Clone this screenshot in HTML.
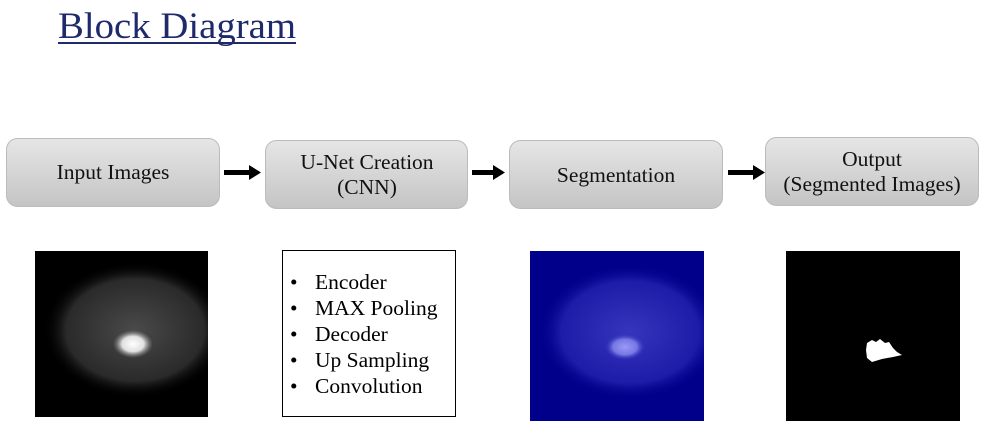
<!DOCTYPE html>
<html><head><meta charset="utf-8"><style>
html,body{margin:0;padding:0;background:#fff;width:994px;height:446px;overflow:hidden}
svg{display:block}
text{font-family:"Liberation Serif",serif}
</style></head><body>
<svg width="994" height="446" xmlns="http://www.w3.org/2000/svg">
<defs>
<linearGradient id="g" x1="0" y1="0" x2="0" y2="1">
<stop offset="0" stop-color="#e6e6e6"/><stop offset="1" stop-color="#c4c4c4"/>
</linearGradient>
<radialGradient id="br" cx="0.5" cy="0.5" r="0.5">
<stop offset="0" stop-color="#4a4a4a"/><stop offset="0.75" stop-color="#2a2a2a"/><stop offset="1" stop-color="#000" stop-opacity="0"/>
</radialGradient>
<radialGradient id="bb" cx="0.5" cy="0.5" r="0.5">
<stop offset="0" stop-color="#3535bd"/><stop offset="0.75" stop-color="#1c1ca8"/><stop offset="1" stop-color="#00008b" stop-opacity="0"/>
</radialGradient>
<radialGradient id="spot" cx="0.5" cy="0.5" r="0.5">
<stop offset="0" stop-color="#fff"/><stop offset="0.55" stop-color="#e0e0e0"/><stop offset="1" stop-color="#888" stop-opacity="0"/>
</radialGradient>
<radialGradient id="spotb" cx="0.5" cy="0.5" r="0.5">
<stop offset="0" stop-color="#9a9af5"/><stop offset="0.6" stop-color="#7777e5"/><stop offset="1" stop-color="#3a3ac0" stop-opacity="0"/>
</radialGradient>
<clipPath id="c1"><rect x="35" y="251" width="173" height="166"/></clipPath>
<clipPath id="c2"><rect x="530" y="251" width="174" height="170"/></clipPath>
</defs>
<text x="58" y="38" font-size="37" fill="#1f2a6b" textLength="238" lengthAdjust="spacingAndGlyphs">Block Diagram</text>
<rect x="58" y="42" width="238" height="2" fill="#1f2a6b"/>

<rect x="6.5" y="138.5" width="213" height="68" rx="11" fill="url(#g)" stroke="#bbb"/>
<text x="113" y="179" font-size="21.5" text-anchor="middle" fill="#111">Input Images</text>
<rect x="265.5" y="140.5" width="202" height="68" rx="11" fill="url(#g)" stroke="#bbb"/>
<text x="367" y="169" font-size="21.5" text-anchor="middle" fill="#111">U-Net Creation</text>
<text x="367" y="194" font-size="21.5" text-anchor="middle" fill="#111">(CNN)</text>
<rect x="509.5" y="140.5" width="213" height="68" rx="11" fill="url(#g)" stroke="#bbb"/>
<text x="616" y="182" font-size="21.5" text-anchor="middle" fill="#111">Segmentation</text>
<rect x="765.5" y="137.5" width="213" height="68" rx="11" fill="url(#g)" stroke="#bbb"/>
<text x="872" y="166" font-size="21.5" text-anchor="middle" fill="#111">Output</text>
<text x="872" y="191" font-size="21.5" text-anchor="middle" fill="#111">(Segmented Images)</text>

<g fill="#000">
<rect x="224" y="170" width="26" height="5"/><polygon points="249,165 261,172.5 249,180"/>
<rect x="472" y="170" width="22" height="5"/><polygon points="493,165 505,172.5 493,180"/>
<rect x="728" y="170" width="26" height="5"/><polygon points="753,165 765,172.5 753,180"/>
</g>

<rect x="35" y="251" width="173" height="166" fill="#000"/>
<g clip-path="url(#c1)">
<ellipse cx="135" cy="330" rx="92" ry="68" fill="url(#br)"/>
<ellipse cx="133" cy="344" rx="20" ry="14" fill="url(#spot)"/>
</g>

<rect x="282.5" y="250.5" width="173" height="166" fill="#fff" stroke="#000"/>
<g font-size="21.5" fill="#000">
<text x="290" y="289">•</text><text x="315" y="289">Encoder</text>
<text x="290" y="315">•</text><text x="315" y="315">MAX Pooling</text>
<text x="290" y="341">•</text><text x="315" y="341">Decoder</text>
<text x="290" y="367">•</text><text x="315" y="367">Up Sampling</text>
<text x="290" y="393">•</text><text x="315" y="393">Convolution</text>
</g>

<rect x="530" y="251" width="174" height="170" fill="#00008b"/>
<g clip-path="url(#c2)">
<ellipse cx="630" cy="332" rx="92" ry="68" fill="url(#bb)"/>
<ellipse cx="625" cy="347" rx="20" ry="13" fill="url(#spotb)"/>
</g>

<rect x="786" y="251" width="174" height="170" fill="#000"/>
<path d="M867,343 L872,340 L876,342 L880,339 L885,343 L889,342 L893,348 L897,352 L902,355 L893,357 L882,359 L872,362 L867,358 L866,350 Z" fill="#fff"/>
</svg>
</body></html>
